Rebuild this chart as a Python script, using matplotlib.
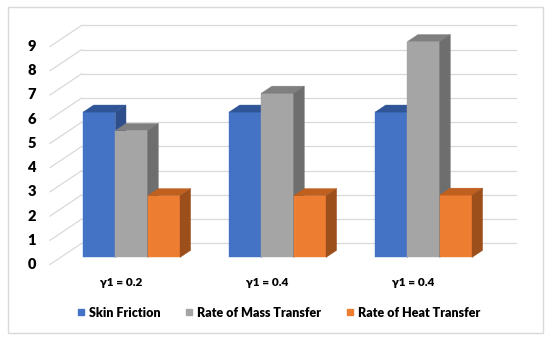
import matplotlib
matplotlib.use("Agg")
import matplotlib.pyplot as plt
from matplotlib.patches import Polygon, FancyBboxPatch
from matplotlib.lines import Line2D

# ---- data ----
categories = ["γ1 = 0.2", "γ1 = 0.4", "γ1 = 0.4"]
series_names = ["Skin Friction", "Rate of Mass Transfer", "Rate of Heat Transfer"]
skin_friction = [6.0, 6.0, 6.0]
mass_transfer = [5.24, 6.78, 8.91]
heat_transfer = [2.55, 2.55, 2.57]
y_ticks = [0, 1, 2, 3, 4, 5, 6, 7, 8, 9]

series = [skin_friction, mass_transfer, heat_transfer]
front_cols = ["#4472C4", "#A5A5A5", "#ED7D31"]
top_cols = ["#2F5597", "#7F7F7F", "#C0601F"]
side_cols = ["#2E4E8C", "#6E6E6E", "#9C4E1B"]

FONT = ["Lato", "DejaVu Sans"]
WEIGHT = "heavy"
plt.rcParams["font.family"] = FONT

W, H, DPI = 550, 341, 100
fig = plt.figure(figsize=(W / DPI, H / DPI), dpi=DPI)
ax = fig.add_axes([0, 0, 1, 1])

# pixel geometry of the projection (category unit / value unit)
px_u, px_v = 146.0, 24.22
x0_px, y0_px = 121.0, 264.5
ax.set_xlim(-x0_px / px_u, (W - x0_px) / px_u)
ax.set_ylim(-(H - y0_px) / px_v, y0_px / px_v)
ax.axis("off")

# depth vector (full floor depth) in data units
DX, DY = 31.7 / px_u, 21.2 / px_v
half = 71.0 / px_u
left_front = -half
right_front = (len(categories) - 1) + half

grid_col = "#D9D9D9"
# walls: left diagonals and back wall horizontals
for t in y_ticks:
    ax.plot([left_front, left_front + DX], [t, t + DY], color=grid_col, lw=0.9, zorder=1)
    ax.plot([left_front + DX, right_front + DX], [t + DY, t + DY], color=grid_col, lw=0.9, zorder=1)
    ax.text(left_front - 14.0 / px_u, t, str(t), ha="right", va="center",
            fontsize=10.5, fontweight=WEIGHT, color="#000000", zorder=5)

# bars
bw = 32.3 / px_u
f0, f1 = 1 / 3, 2 / 3
bdx, bdy = DX * (f1 - f0), DY * (f1 - f0)
z = 2
for i in range(len(categories)):
    for k, vals in enumerate(series):
        h = vals[i]
        xl = i + DX * f0 + (k - 1.5) * bw
        yb = DY * f0
        ax.bar(xl, h, width=bw, bottom=yb, align="edge", color=front_cols[k],
               edgecolor=front_cols[k], linewidth=0.3, zorder=z)
        top = [(xl, yb + h), (xl + bw, yb + h), (xl + bw + bdx, yb + h + bdy), (xl + bdx, yb + h + bdy)]
        ax.add_patch(Polygon(top, closed=True, facecolor=top_cols[k], edgecolor=top_cols[k],
                             linewidth=0.3, zorder=z))
        side = [(xl + bw, yb), (xl + bw + bdx, yb + bdy), (xl + bw + bdx, yb + h + bdy), (xl + bw, yb + h)]
        ax.add_patch(Polygon(side, closed=True, facecolor=side_cols[k], edgecolor=side_cols[k],
                             linewidth=0.3, zorder=z))
        z += 1

# category labels
for i, c in enumerate(categories):
    ax.text(i, -0.75, c, ha="center", va="center", fontsize=8.5, fontweight=WEIGHT,
            color="#000000", zorder=5)

# legend
handles = [Line2D([], [], marker="s", linestyle="none", markersize=4.5,
                  markerfacecolor=front_cols[k], markeredgecolor=front_cols[k])
           for k in range(3)]
leg = ax.legend(handles, series_names, loc="center", ncol=3,
                bbox_to_anchor=((278.5 - x0_px) / px_u, -1.99), bbox_transform=ax.transData,
                frameon=False, handlelength=0.6, handletextpad=0.35, columnspacing=2.0,
                prop={"family": FONT, "weight": WEIGHT, "size": 9})

# chart border
fig.patches.append(FancyBboxPatch((8 / W, (H - 332.7) / H), (542.7 - 8) / W, (332.7 - 7) / H,
                                  boxstyle="square,pad=0", transform=fig.transFigure,
                                  facecolor="none", edgecolor="#D9D9D9", linewidth=1.0))

fig.savefig("out.png", dpi=DPI)
